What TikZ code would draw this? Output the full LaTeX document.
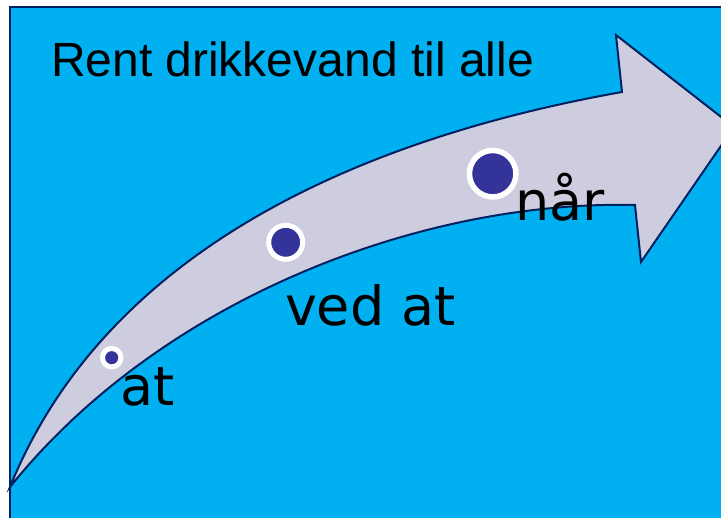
\documentclass[tikz,border=0pt]{standalone}
\usepackage{fontspec}
\setmainfont{Liberation Sans}
\newfontfamily\labelfont{DejaVu Sans}
\definecolor{bgblue}{RGB}{0,176,240}
\definecolor{navy}{RGB}{0,32,96}
\definecolor{arrowfill}{RGB}{205,205,223}
\definecolor{dotblue}{RGB}{51,51,153}
\tikzset{
  titletext/.style={anchor=base west, inner sep=0pt, outer sep=0pt, font=\fontsize{48}{56}\selectfont},
  lbltext/.style={anchor=base west, inner sep=0pt, outer sep=0pt, font=\labelfont\fontsize{54}{62}\selectfont},
  dot/.style={circle, fill=dotblue, draw=white, inner sep=0pt, outer sep=0pt},
  arrowbody/.style={draw=navy, line width=2pt, fill=arrowfill, line join=miter},
}
\begin{document}
\begin{tikzpicture}[x=1pt,y=-1pt]
\useasboundingbox (0,0) rectangle (721,518);
\clip (0,0) rectangle (721,518);
\fill[white] (0,0) rectangle (721,518);
\draw[navy, line width=2.2pt, fill=bgblue] (10,7) rectangle (740,540);
\draw[arrowbody] (10,487) .. controls (110,240) and (380,135) .. (622,92)
  -- (616,35) -- (734,127) -- (641,262) -- (635,205)
  .. controls (420,200) and (160,300) .. (10,487) -- cycle;
\node[dot, minimum size=18.4pt, line width=5pt] (d1) at (111.7,357.7) {};
\node[dot, minimum size=34pt, line width=5pt] (d2) at (285.7,242.3) {};
\node[dot, minimum size=46.5pt, line width=5.5pt] (d3) at (492.7,173.7) {};
\node[titletext] (title) at (51,77) {Rent drikkevand til alle};
\node[lbltext] (l1) at (120,406) {at};
\node[lbltext] (l2) at (285,326) {ved at};
\node[lbltext] (l3) at (515,221) {når};
\end{tikzpicture}
\end{document}
